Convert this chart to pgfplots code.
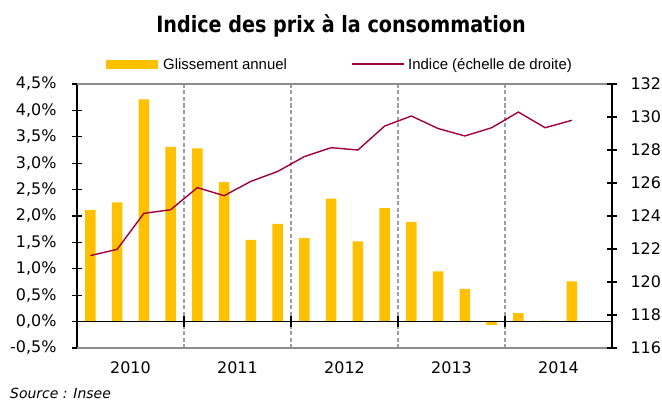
\documentclass[border=0pt]{standalone}
\usepackage{fontspec}
\setmainfont{DejaVu Sans}
\newfontfamily\titlefont{DejaVu Sans Condensed Bold}
\newfontfamily\legfont{Liberation Sans}
\usepackage{pgfplots}
\pgfplotsset{compat=1.18}
\definecolor{barc}{HTML}{FFC000}
\definecolor{linec}{HTML}{A0003C}
\begin{document}
\begin{tikzpicture}[x=1bp,y=1bp]
\path[use as bounding box] (0,0) rectangle (662,401);
\begin{axis}[at={(77bp,53bp)}, anchor=south west, scale only axis,
  width=535bp, height=264bp,
  xmin=0.5, xmax=20.5, ymin=-0.5, ymax=4.5,
  axis y line*=left, axis x line*=bottom, axis line style={-},
  x axis line style={draw=none},
  y axis line style={black, line width=1.3pt},
  xtick={2.5,6.5,10.5,14.5,18.5}, xticklabels={2010,2011,2012,2013,2014},
  x tick style={draw=none},
  xticklabel style={yshift=-5bp},
  ytick={-0.5,0,...,4.5},
  y tick style={black, line width=1.2pt},
  tick align=center, major tick length=10bp,
  tick label style={font=\fontsize{16}{19}\selectfont},
  /pgf/number format/assume math mode=true,
  yticklabel={\pgfmathprintnumber[fixed,fixed zerofill,precision=1,use comma]{\tick}\%},
  yticklabel style={xshift=-12bp},
  clip=false,
]
\draw[black!38, line width=1.2bp, dash pattern=on 4bp off 2.5bp] (4.5,-0.5) -- (4.5,4.5);
\draw[black!38, line width=1.2bp, dash pattern=on 4bp off 2.5bp] (8.5,-0.5) -- (8.5,4.5);
\draw[black!38, line width=1.2bp, dash pattern=on 4bp off 2.5bp] (12.5,-0.5) -- (12.5,4.5);
\draw[black!38, line width=1.2bp, dash pattern=on 4bp off 2.5bp] (16.5,-0.5) -- (16.5,4.5);
\draw[black!45, line width=1.6bp] (0.5,4.5) -- (20.5,4.5);
\draw[black!45, line width=1.6bp] (0.5,-0.5) -- (20.5,-0.5);
\addplot[ybar, bar width=10.5bp, fill=barc, draw=none] coordinates {
 (1,2.11) (2,2.26) (3,4.21) (4,3.31)
 (5,3.28) (6,2.64) (7,1.55) (8,1.85)
 (9,1.58) (10,2.33) (11,1.52) (12,2.15)
 (13,1.89) (14,0.95) (15,0.62) (16,-0.06)
 (17,0.16) (18,0.02) (19,0.76)
};
\draw[black, line width=1.3pt] (0.5,0) -- (20.5,0);
\draw[black, line width=1.2pt] (4.5,-0.1) -- (4.5,0.1);
\draw[black, line width=1.2pt] (8.5,-0.1) -- (8.5,0.1);
\draw[black, line width=1.2pt] (12.5,-0.1) -- (12.5,0.1);
\draw[black, line width=1.2pt] (16.5,-0.1) -- (16.5,0.1);
\end{axis}
\begin{axis}[at={(77bp,53bp)}, anchor=south west, scale only axis,
  width=535bp, height=264bp,
  xmin=0.5, xmax=20.5, ymin=116, ymax=132,
  axis y line*=right, axis x line=none, axis line style={-},
  y axis line style={black, line width=1.3pt},
  ytick={116,118,...,132},
  y tick style={black, line width=1.2pt},
  tick align=center, major tick length=10bp,
  tick label style={font=\fontsize{16}{19}\selectfont},
  /pgf/number format/assume math mode=true,
  yticklabel style={xshift=10bp},
]
\addplot[linec, line width=1.4pt, mark=none] coordinates {
 (1,121.6) (2,121.98) (3,124.16) (4,124.38)
 (5,125.72) (6,125.23) (7,126.1) (8,126.7)
 (9,127.6) (10,128.14) (11,128.0) (12,129.45)
 (13,130.06) (14,129.3) (15,128.85) (16,129.35)
 (17,130.3) (18,129.35) (19,129.8)
};
\end{axis}
\node[anchor=base, inner sep=0pt, font=\titlefont\fontsize{22.5}{26}\selectfont] at (341,369) {\scalebox{0.95}[1]{Indice des prix à la consommation}};
\fill[barc] (106,332) rectangle (158,341);
\node[anchor=base west, inner sep=0pt, font=\legfont\fontsize{15}{18}\selectfont] at (163,332) {Glissement annuel};
\draw[linec, line width=1.4pt] (352,337) -- (404,337);
\node[anchor=base west, inner sep=0pt, font=\legfont\fontsize{15}{18}\selectfont] at (408,332) {Indice (échelle de droite)};
\node[anchor=base west, inner sep=0pt, font=\itshape\fontsize{14}{17}\selectfont] at (10,2.5) {Source : Insee};
\end{tikzpicture}
\end{document}
